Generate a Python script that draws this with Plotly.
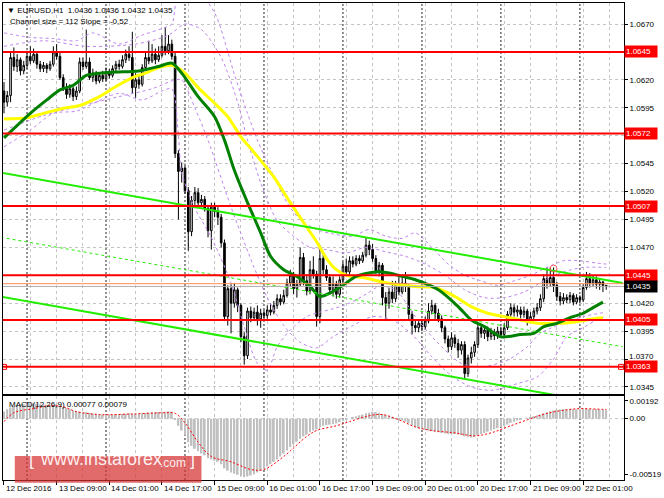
import plotly.graph_objects as go

PIP = 0.0001

# --- EURUSD H1 quotes, in pips (10435 = 1.0435); bar 0 = 12 Dec 2016 17:00 ---
opens = [
    10610, 10600, 10606, 10640, 10632, 10638, 10628, 10633, 10641, 10637,
    10643, 10634, 10630, 10633, 10630, 10634, 10645, 10641, 10622, 10613,
    10607, 10612, 10605, 10610, 10636, 10632, 10636, 10622, 10626, 10619,
    10624, 10621, 10627, 10624, 10630, 10634, 10632, 10638, 10643, 10640,
    10613, 10620, 10616, 10631, 10640, 10637, 10643, 10638, 10642, 10650,
    10646, 10652, 10641, 10554, 10538, 10541, 10521, 10484, 10512, 10519,
    10510, 10513, 10505, 10485, 10506, 10502, 10497, 10474, 10408, 10433,
    10420, 10432, 10418, 10390, 10373, 10413, 10407, 10412, 10406, 10411,
    10409, 10414, 10412, 10418, 10424, 10421, 10427, 10438, 10445, 10433,
    10437, 10461, 10440, 10431, 10450, 10446, 10408, 10460, 10450, 10443,
    10432, 10437, 10428, 10441, 10453, 10448, 10458, 10455, 10460, 10458,
    10463, 10472, 10468, 10460, 10449, 10454, 10425, 10420, 10430, 10424,
    10436, 10430, 10438, 10435, 10410, 10400, 10398, 10402, 10399, 10404,
    10413, 10418, 10411, 10406, 10398, 10388, 10381, 10389, 10384, 10378,
    10383, 10357, 10371, 10376, 10383, 10398, 10393, 10396, 10390, 10394,
    10391, 10395, 10392, 10398, 10410, 10416, 10412, 10414, 10410, 10413,
    10404, 10408, 10413, 10416, 10424, 10442, 10438, 10443, 10436, 10426,
    10422, 10425, 10423, 10427, 10421, 10425, 10423, 10434, 10442, 10438,
    10441, 10437, 10439, 10436,
]
highs = [
    10618, 10610, 10645, 10649, 10643, 10640, 10637, 10646, 10650, 10648,
    10645, 10637, 10636, 10635, 10637, 10650, 10652, 10644, 10625, 10617,
    10616, 10614, 10614, 10640, 10640, 10665, 10640, 10630, 10628, 10627,
    10628, 10631, 10630, 10633, 10637, 10638, 10642, 10647, 10650, 10663,
    10626, 10624, 10634, 10645, 10655, 10652, 10648, 10650, 10660, 10667,
    10660, 10656, 10645, 10557, 10546, 10543, 10524, 10516, 10524, 10523,
    10517, 10516, 10508, 10510, 10510, 10506, 10500, 10477, 10436, 10437,
    10438, 10434, 10420, 10394, 10416, 10417, 10416, 10418, 10415, 10414,
    10418, 10420, 10422, 10428, 10428, 10432, 10442, 10450, 10448, 10441,
    10470, 10465, 10446, 10458, 10462, 10449, 10472, 10464, 10454, 10446,
    10444, 10440, 10444, 10457, 10460, 10462, 10462, 10463, 10463, 10466,
    10479, 10476, 10473, 10463, 10457, 10456, 10430, 10434, 10440, 10440,
    10444, 10446, 10448, 10437, 10413, 10404, 10405, 10406, 10408, 10420,
    10423, 10420, 10415, 10409, 10400, 10391, 10394, 10392, 10388, 10386,
    10386, 10374, 10381, 10386, 10402, 10401, 10400, 10399, 10398, 10397,
    10399, 10399, 10402, 10413, 10420, 10419, 10418, 10417, 10417, 10415,
    10412, 10416, 10420, 10428, 10446, 10452, 10452, 10452, 10439, 10430,
    10429, 10428, 10430, 10429, 10428, 10427, 10437, 10448, 10447, 10445,
    10444, 10442, 10440, 10436,
]
lows = [
    10590, 10596, 10600, 10628, 10627, 10624, 10625, 10630, 10634, 10635,
    10630, 10627, 10627, 10626, 10628, 10632, 10638, 10620, 10610, 10603,
    10604, 10601, 10602, 10608, 10629, 10630, 10620, 10618, 10616, 10617,
    10618, 10619, 10621, 10622, 10628, 10629, 10630, 10635, 10637, 10608,
    10604, 10612, 10614, 10628, 10634, 10635, 10634, 10636, 10640, 10642,
    10643, 10638, 10550, 10495, 10528, 10518, 10467, 10480, 10508, 10505,
    10506, 10502, 10479, 10468, 10497, 10490, 10470, 10404, 10400, 10393,
    10416, 10412, 10385, 10365, 10370, 10403, 10404, 10400, 10398, 10405,
    10406, 10409, 10410, 10415, 10418, 10419, 10425, 10435, 10428, 10425,
    10435, 10436, 10427, 10428, 10442, 10399, 10402, 10446, 10440, 10428,
    10426, 10424, 10425, 10438, 10444, 10445, 10452, 10453, 10455, 10456,
    10461, 10463, 10457, 10446, 10444, 10418, 10404, 10415, 10420, 10421,
    10427, 10428, 10430, 10405, 10392, 10394, 10394, 10395, 10396, 10402,
    10410, 10406, 10403, 10394, 10384, 10376, 10378, 10380, 10371, 10374,
    10352, 10354, 10366, 10372, 10380, 10389, 10388, 10386, 10387, 10387,
    10388, 10389, 10390, 10396, 10407, 10408, 10408, 10406, 10407, 10400,
    10402, 10404, 10410, 10413, 10421, 10433, 10435, 10430, 10422, 10418,
    10419, 10420, 10420, 10418, 10419, 10420, 10421, 10432, 10434, 10435,
    10433, 10432, 10430, 10432,
]
closes = [
    10600, 10606, 10640, 10632, 10638, 10628, 10633, 10641, 10637, 10643,
    10634, 10630, 10633, 10630, 10634, 10645, 10641, 10622, 10613, 10607,
    10612, 10605, 10610, 10636, 10632, 10636, 10622, 10626, 10619, 10624,
    10621, 10627, 10624, 10630, 10634, 10632, 10638, 10643, 10640, 10613,
    10620, 10616, 10631, 10640, 10637, 10643, 10638, 10642, 10650, 10646,
    10652, 10641, 10554, 10538, 10541, 10521, 10484, 10512, 10519, 10510,
    10513, 10505, 10485, 10506, 10502, 10497, 10474, 10408, 10433, 10420,
    10432, 10418, 10390, 10373, 10413, 10407, 10412, 10406, 10411, 10409,
    10414, 10412, 10418, 10424, 10421, 10427, 10438, 10445, 10433, 10437,
    10461, 10440, 10431, 10450, 10446, 10408, 10460, 10450, 10443, 10432,
    10437, 10428, 10441, 10453, 10448, 10458, 10455, 10460, 10458, 10463,
    10472, 10468, 10460, 10449, 10454, 10425, 10420, 10430, 10424, 10436,
    10430, 10438, 10435, 10410, 10400, 10398, 10402, 10399, 10404, 10413,
    10418, 10411, 10406, 10398, 10388, 10381, 10389, 10384, 10378, 10383,
    10357, 10371, 10376, 10383, 10398, 10393, 10396, 10390, 10394, 10391,
    10395, 10392, 10398, 10410, 10416, 10412, 10414, 10410, 10413, 10404,
    10408, 10413, 10416, 10424, 10442, 10438, 10443, 10436, 10426, 10422,
    10425, 10423, 10427, 10421, 10425, 10423, 10434, 10442, 10438, 10441,
    10437, 10439, 10436, 10435,
]

# --- moving averages at a few bars (pips) ---
ma_green_bars = [0, 8, 13, 17, 21, 25, 29, 34, 41, 47, 51, 54, 59, 64, 67, 70, 74, 78, 81, 85,
                 89, 93, 96, 99, 103, 107, 113, 117, 121, 125, 132, 138, 142, 146, 151, 157,
                 161, 164, 168, 172, 176, 179, 182]
ma_green = [10568, 10590, 10602, 10611, 10615, 10624, 10626, 10627, 10628, 10632, 10635, 10626,
            10605, 10587, 10566, 10539, 10510, 10483, 10462, 10450, 10444, 10435, 10426, 10429,
            10436, 10444, 10448, 10447, 10444, 10441, 10432, 10417, 10405, 10399, 10390, 10392,
            10393, 10399, 10402, 10407, 10411, 10416, 10421]
ma_yellow_bars = [0, 7, 12, 19, 23, 29, 34, 39, 43, 47, 51, 55, 59, 64, 68, 72, 76, 82, 87, 92,
                  95, 98, 101, 104, 109, 115, 119, 125, 131, 137, 142, 147, 152, 157, 162, 167,
                  173, 179, 182]
ma_yellow = [10585, 10586, 10590, 10595, 10597, 10605, 10614, 10622, 10626, 10631, 10633, 10626,
             10613, 10599, 10587, 10569, 10555, 10533, 10510, 10488, 10475, 10460, 10450, 10445,
             10443, 10439, 10437, 10435, 10434, 10426, 10417, 10411, 10408, 10405, 10402, 10402,
             10403, 10406, 10407]

# --- envelope bands (violet dashed), pips ---
band1_up_bars = [0, 8, 15, 22, 27, 35, 42, 48, 51, 53, 60, 64, 66, 70, 74, 77, 81, 86, 90, 95,
                 100, 106, 111, 116, 121, 125, 130, 135, 140, 145, 150, 155, 160, 165, 170, 175,
                 180, 183]
band1_up = [10662, 10658, 10657, 10655, 10662, 10652, 10660, 10666, 10670, 10695, 10695, 10680,
            10665, 10625, 10590, 10566, 10540, 10510, 10495, 10486, 10482, 10480, 10486, 10480,
            10478, 10483, 10470, 10455, 10445, 10440, 10436, 10440, 10445, 10452, 10458, 10458,
            10456, 10455]
band1_low_bars = [0, 8, 15, 22, 28, 35, 42, 48, 51, 53, 54, 58, 63, 69, 73, 77, 80, 83, 87, 92,
                  96, 100, 105, 110, 114, 119, 125, 131, 139, 145, 153, 159, 163, 170, 176, 183]
band1_low = [10560, 10575, 10590, 10592, 10600, 10608, 10602, 10610, 10612, 10570, 10537, 10505,
             10479, 10438, 10399, 10366, 10360, 10381, 10396, 10408, 10412, 10415, 10420, 10428,
             10435, 10432, 10408, 10387, 10366, 10363, 10369, 10381, 10393, 10402, 10408, 10412]
band2_up_bars = [0, 12, 25, 40, 50, 55, 60, 66, 71, 74, 78, 83, 88, 93, 98, 104, 110, 116, 122,
                 128, 134, 140, 146, 152, 158, 164, 170, 176, 183]
band2_up = [10650, 10655, 10650, 10652, 10660, 10670, 10665, 10640, 10600, 10566, 10528, 10494,
            10480, 10470, 10468, 10465, 10470, 10466, 10462, 10455, 10445, 10432, 10425, 10425,
            10430, 10440, 10448, 10452, 10452]
band2_low_bars = [0, 12, 25, 35, 45, 52, 54, 58, 62, 69, 76, 80, 85, 90, 95, 100, 106, 112, 118,
                  124, 130, 136, 142, 148, 156, 162, 167, 171, 176, 180, 183]
band2_low = [10575, 10588, 10598, 10605, 10612, 10620, 10620, 10595, 10566, 10506, 10452, 10425,
             10400, 10385, 10380, 10390, 10400, 10408, 10405, 10392, 10372, 10355, 10345, 10342,
             10348, 10354, 10370, 10390, 10398, 10405, 10408]

# --- channel (two anchors each), pips ---
channel_bars = [-1, 188]
channel_upper = [10537, 10438]
channel_mid = [10479, 10381]
channel_lower = [10426, 10327]
touch_bar = [167]
touch_price = [10451]

# --- horizontal levels ---
levels = [1.0645, 1.0572, 1.0507, 1.0445, 1.0405, 1.0363]
level_marks_bars = [0, 187.5]
orange_level = 1.04375
bid_price = 1.0435

# --- MACD(12,26,9), units of 0.00001 ---
macd_hist = [
    60, 80, 95, 105, 115, 120, 125, 128, 130, 128,
    125, 122, 120, 118, 115, 118, 120, 110, 100, 90,
    80, 70, 62, 58, 55, 55, 50, 45, 40, 35,
    33, 32, 32, 33, 35, 38, 40, 42, 45, 40,
    38, 40, 45, 50, 52, 55, 55, 56, 58, 60,
    62, 60, -10, -60, -100, -140, -200, -230, -255, -275,
    -295, -310, -335, -345, -355, -365, -385, -420, -440, -455,
    -465, -475, -485, -495, -490, -480, -470, -455, -440, -425,
    -405, -385, -365, -345, -320, -295, -270, -240, -215, -195,
    -170, -150, -135, -115, -100, -90, -70, -60, -55, -50,
    -45, -40, -30, -20, -10, 0, 10, 20, 28, 35,
    45, 50, 58, 55, 50, 40, 30, 22, 12, 5,
    -5, -15, -25, -40, -55, -70, -80, -90, -95, -100,
    -105, -110, -115, -120, -125, -130, -130, -130, -135, -140,
    -150, -155, -160, -155, -140, -130, -120, -110, -100, -90,
    -80, -70, -60, -50, -35, -25, -15, -8, 0, 5,
    12, 20, 28, 35, 45, 55, 62, 70, 75, 78,
    80, 80, 81, 80, 80, 79, 80, 82, 82, 80,
    80, 78, 78, 77,
]
signal_bars = [0, 3, 9, 14, 18, 22, 29, 39, 49, 52, 55, 59, 63, 69, 75, 79, 85, 92, 95, 101,
               105, 111, 115, 120, 125, 130, 137, 143, 148, 153, 159, 165, 171, 175, 182, 183]
signal_vals = [-25, 50, 85, 110, 100, 60, 35, 40, 50, 45, -35, -200, -320, -365, -430, -430,
               -320, -150, -100, -60, -25, 25, 35, -10, -70, -100, -120, -145, -120, -70, -10,
               45, 75, 85, 79, 79]

# --- axis labels ---
price_ticks = [1.0345, 1.0370, 1.0395, 1.0420, 1.0445, 1.0470, 1.0495, 1.0520, 1.0545,
               1.0570, 1.0595, 1.0620, 1.0645, 1.0670]
time_label_bars = [0, 16, 32, 48, 64, 80, 96, 112, 128, 144, 160, 176]
time_labels = ['12 Dec 2016', '13 Dec 09:00', '14 Dec 01:00', '14 Dec 17:00', '15 Dec 09:00',
               '16 Dec 01:00', '16 Dec 17:00', '19 Dec 09:00', '20 Dec 01:00', '20 Dec 17:00',
               '21 Dec 09:00', '22 Dec 01:00']
grid_bars = list(range(0, 189, 8))
day_start_bars = [7, 31, 55, 79, 103, 127, 151, 175]


def px(vals):
    return [v * PIP for v in vals]


bars = list(range(len(closes)))
X_RANGE = [-0.3, 188.4]
Y_RANGE = [1.03387, 1.06888]
MACD_RANGE = [-0.00519, 0.00192]
MAIN_DOM = [0.1803, 1.0]
MACD_DOM = [0.0, 0.1761]
FONT = 'Liberation Sans, Arial, sans-serif'
GRID = '#C4C4C4'
VIOLET = '#BE84EC'
LIME = '#22EE00'

fig = go.Figure()

# candles
fig.add_trace(go.Candlestick(
    x=bars, open=px(opens), high=px(highs), low=px(lows), close=px(closes),
    increasing=dict(line=dict(color='black', width=1), fillcolor='white'),
    decreasing=dict(line=dict(color='black', width=1), fillcolor='black'),
    whiskerwidth=0, hoverinfo='skip', xaxis='x', yaxis='y'))

# bands
for bx, by in [(band1_up_bars, band1_up), (band1_low_bars, band1_low),
               (band2_up_bars, band2_up), (band2_low_bars, band2_low)]:
    fig.add_trace(go.Scatter(x=bx, y=px(by), mode='lines',
                             line=dict(color=VIOLET, width=1, dash='3px,3px', shape='spline', smoothing=0.8),
                             hoverinfo='skip', xaxis='x', yaxis='y'))

# moving averages
fig.add_trace(go.Scatter(x=ma_yellow_bars, y=px(ma_yellow), mode='lines',
                         line=dict(color='#FFFF00', width=3, shape='spline', smoothing=0.8),
                         hoverinfo='skip', xaxis='x', yaxis='y'))
fig.add_trace(go.Scatter(x=ma_green_bars, y=px(ma_green), mode='lines',
                         line=dict(color='#008000', width=3, shape='spline', smoothing=0.8),
                         hoverinfo='skip', xaxis='x', yaxis='y'))

# channel
fig.add_trace(go.Scatter(x=channel_bars, y=px(channel_upper), mode='lines',
                         line=dict(color=LIME, width=2), hoverinfo='skip', xaxis='x', yaxis='y'))
fig.add_trace(go.Scatter(x=channel_bars, y=px(channel_mid), mode='lines',
                         line=dict(color=LIME, width=1, dash='3px,3px'), hoverinfo='skip', xaxis='x', yaxis='y'))
fig.add_trace(go.Scatter(x=channel_bars, y=px(channel_lower), mode='lines',
                         line=dict(color=LIME, width=2), hoverinfo='skip', xaxis='x', yaxis='y'))
fig.add_trace(go.Scatter(x=touch_bar, y=px(touch_price), mode='markers',
                         marker=dict(symbol='circle-open', size=7, color='#FF6060', line=dict(width=1)),
                         hoverinfo='skip', xaxis='x', yaxis='y'))

# level lines
fig.add_trace(go.Scatter(x=X_RANGE, y=[orange_level, orange_level], mode='lines',
                         line=dict(color='#FF8C55', width=1), hoverinfo='skip', xaxis='x', yaxis='y'))
fig.add_trace(go.Scatter(x=X_RANGE, y=[bid_price, bid_price], mode='lines',
                         line=dict(color='#B0B0B0', width=1), hoverinfo='skip', xaxis='x', yaxis='y'))
for lv in levels:
    fig.add_trace(go.Scatter(x=X_RANGE, y=[lv, lv], mode='lines',
                             line=dict(color='#FF0000', width=2), hoverinfo='skip', xaxis='x', yaxis='y'))
fig.add_trace(go.Scatter(x=level_marks_bars, y=[levels[-1]] * 2, mode='markers',
                         marker=dict(symbol='square-open', size=5, color='#FF0000', line=dict(width=1)),
                         hoverinfo='skip', xaxis='x', yaxis='y'))

# MACD
fig.add_trace(go.Bar(x=bars, y=[v * 1e-5 for v in macd_hist], marker=dict(color='#C0C0C0', line=dict(width=0)),
                     width=0.55, hoverinfo='skip', xaxis='x2', yaxis='y2'))
fig.add_trace(go.Scatter(x=signal_bars, y=[v * 1e-5 for v in signal_vals], mode='lines',
                         line=dict(color='#FF0000', width=1, dash='2px,2px', shape='spline'),
                         hoverinfo='skip', xaxis='x2', yaxis='y2'))

# day separators and zero line
for b in day_start_bars:
    for dom in (MAIN_DOM, MACD_DOM):
        fig.add_shape(type='line', xref='x', yref='paper', x0=b, x1=b, y0=dom[0], y1=dom[1],
                      line=dict(color='#222222', width=1, dash='2px,2px'), layer='below')
fig.add_shape(type='line', xref='paper', yref='y2', x0=0, x1=1, y0=0, y1=0,
              line=dict(color=GRID, width=1, dash='3px,3px'), layer='below')

# watermark
fig.add_shape(type='rect', xref='paper', yref='paper', x0=0.019, x1=0.3196, y0=-0.006, y1=0.0503,
              fillcolor='rgba(214,48,49,0.72)', line=dict(width=0), layer='above')
wm_font = dict(family=FONT, color='rgba(255,255,255,0.92)')
fig.add_annotation(x=0.0382, y=0.019, xref='paper', yref='paper', showarrow=False,
                   text='[', font=dict(size=18, **wm_font))
fig.add_annotation(x=0.0556, y=0.019, xref='paper', yref='paper', xanchor='left', showarrow=False,
                   text='www.instaforex', font=dict(size=18, **wm_font))
fig.add_annotation(x=0.2496, y=0.017, xref='paper', yref='paper', xanchor='left', showarrow=False,
                   text='.com', font=dict(size=12, **wm_font))
fig.add_annotation(x=0.2973, y=0.019, xref='paper', yref='paper', showarrow=False,
                   text=']', font=dict(size=18, **wm_font))

# right-side price labels
for lv in levels:
    fig.add_annotation(x=1, xref='paper', xanchor='left', y=lv, yref='y', showarrow=False,
                       text=f'{lv:.4f}', bgcolor='#FF0000', font=dict(family=FONT, size=8, color='white'),
                       width=30, align='left', borderpad=1)
fig.add_annotation(x=1, xref='paper', xanchor='left', y=bid_price, yref='y', showarrow=False,
                   text=f'{bid_price:.4f}', bgcolor='black', font=dict(family=FONT, size=8, color='white'),
                   width=30, align='left', borderpad=1)
# 1.0370 sits just above the 1.0363 box
fig.add_annotation(x=1, xref='paper', xanchor='left', xshift=3, y=1.0370, yref='y', yshift=3,
                   showarrow=False, text='1.0370', font=dict(family=FONT, size=8, color='black'))

# time labels
for b, t in zip(time_label_bars, time_labels):
    fig.add_annotation(x=b, xref='x2', xanchor='left', y=0, yref='paper', yanchor='top', yshift=-2,
                       showarrow=False, text=t, font=dict(family=FONT, size=8, color='black'))

# header texts
fig.add_annotation(x=0, y=1, xref='paper', yref='paper', xanchor='left', yanchor='top', xshift=2, yshift=-1,
                   showarrow=False, text='\u25bc EURUSD,H1  1.0436 1.0436 1.0432 1.0435',
                   font=dict(family=FONT, size=8, color='black'))
fig.add_annotation(x=0, y=1, xref='paper', yref='paper', xanchor='left', yanchor='top', xshift=5, yshift=-12,
                   showarrow=False, text='Channel size = 112 Slope = -0.52',
                   font=dict(family=FONT, size=8, color='black'))
fig.add_annotation(x=0, y=MACD_DOM[1], xref='paper', yref='paper', xanchor='left', yanchor='top', xshift=4,
                   yshift=-2, showarrow=False, text='MACD(12,26,9) 0.00077 0.00079',
                   font=dict(family=FONT, size=8, color='black'))

axis_common = dict(showline=True, mirror=True, linecolor='black', linewidth=1, zeroline=False)
# tick labels hidden under the red level boxes (1.0370 is drawn separately)
covered = {1.0645, 1.0570, 1.0445, 1.0370}
price_ticktext = ['' if v in covered else f'{v:.4f}' for v in price_ticks]

fig.update_layout(
    width=664, height=498, margin=dict(l=2, r=33, t=3, b=18),
    paper_bgcolor='white', plot_bgcolor='white', showlegend=False,
    font=dict(family=FONT, size=8, color='black'),
    xaxis=dict(domain=[0, 1], anchor='y', range=X_RANGE, tickvals=grid_bars, showticklabels=False,
               ticks='', showgrid=True, gridcolor=GRID, griddash='3px,3px', rangeslider=dict(visible=False),
               **axis_common),
    yaxis=dict(domain=MAIN_DOM, anchor='x', side='right', range=Y_RANGE, tickvals=price_ticks,
               ticktext=price_ticktext, ticks='outside', ticklen=3, tickcolor='black',
               showgrid=True, gridcolor=GRID, griddash='3px,3px', **axis_common),
    xaxis2=dict(domain=[0, 1], anchor='y2', range=X_RANGE, tickvals=time_label_bars, showticklabels=False,
                ticks='outside', ticklen=4, tickcolor='black', showgrid=True, gridcolor=GRID,
                griddash='3px,3px', minor=dict(tickvals=grid_bars, showgrid=True, gridcolor=GRID,
                                               griddash='3px,3px', ticks=''),
                **axis_common),
    yaxis2=dict(domain=MACD_DOM, anchor='x2', side='right', range=MACD_RANGE,
                tickvals=[0.00152, 0, -0.00474], ticktext=['0.00192', '0.00', '-0.00519'],
                ticks='outside', ticklen=3, tickcolor='black', showgrid=False, **axis_common),
)

fig.write_html("out.html", config={'displayModeBar': False},
               post_script="document.body.style.margin='0';")
